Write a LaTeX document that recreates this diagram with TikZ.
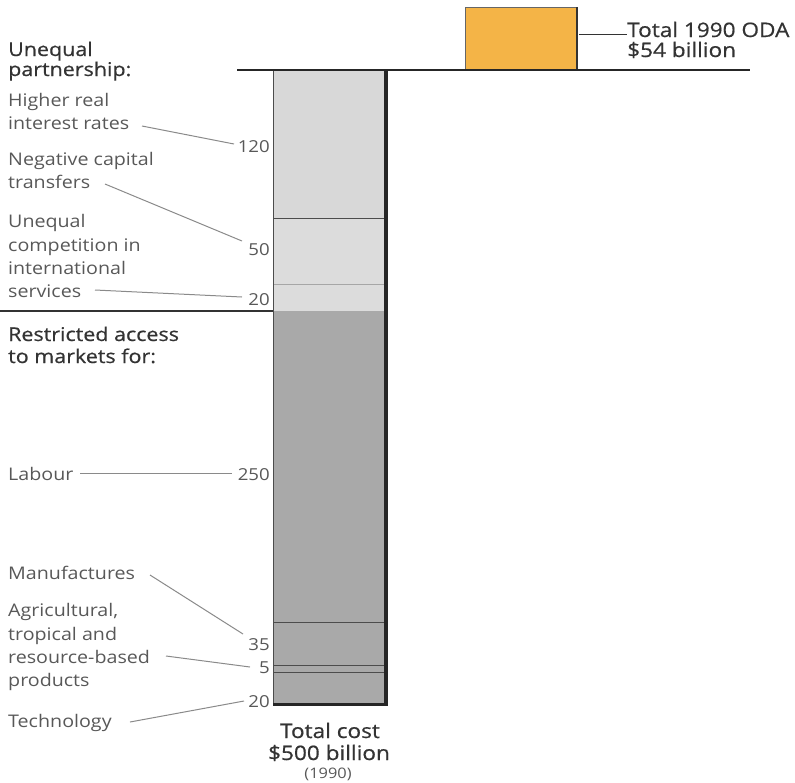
\documentclass[tikz,border=0pt]{standalone}
\usepackage{fontspec}
\setmainfont{Open Sans}[FakeStretch=1.13]
\newfontfamily\headfont{Open Sans}[FakeStretch=1.13,FakeBold=0.6]
\definecolor{oda}{HTML}{F4B447}
\definecolor{lgray}{HTML}{D8D8D8}
\definecolor{mgray}{HTML}{DCDCDC}
\definecolor{dgray}{HTML}{A9A9A9}
\definecolor{txtdark}{HTML}{333333}
\definecolor{txtmid}{HTML}{585858}
\definecolor{leader}{HTML}{8A8A8A}
\tikzset{
  head/.style={anchor=base west,inner sep=0pt,font=\headfont\fontsize{19}{22}\selectfont,text=txtdark},
  sub/.style={anchor=base west,inner sep=0pt,font=\fontsize{17.4}{20}\selectfont,text=txtmid},
  num/.style={anchor=base east,inner sep=0pt,font=\fontsize{16.5}{20}\selectfont,text=txtmid},
  tot/.style={anchor=base,inner sep=0pt,font=\headfont\fontsize{20}{24}\selectfont,text=txtdark},
  odatext/.style={anchor=base west,inner sep=0pt,font=\headfont\fontsize{20}{24}\selectfont,text=txtdark},
  lead/.style={draw=leader,line width=1pt},
  seg/.style={draw=black!70,line width=0.8pt},
}
\begin{document}
\begin{tikzpicture}[x=1pt,y=-1pt]
\useasboundingbox (0,0) rectangle (795,782);
% ODA box
\fill[oda] (465,7) rectangle (578,70);
\draw[black!60,line width=0.6pt] (465,70) -- (465,7) -- (578,7);
\draw[black!80,line width=2.5pt] (577,7) -- (577,70);
\coordinate (odaR) at (579,34);
\node[odatext] (odat1) at (627,37) {Total 1990 ODA};
\node[odatext] (odat2) at (627,57) {\$54 billion};
\draw[black!80,line width=1pt] (odaR) -- (odat1.west|-odaR);
% column segments
\fill[lgray] (273,70) rectangle (386,218);
\fill[mgray] (273,218) rectangle (386,284);
\fill[mgray] (273,284) rectangle (386,311);
\fill[dgray] (273,311) rectangle (386,705);
\draw[seg] (273,218) -- (386,218);
\draw[seg,black!35] (273,284) -- (386,284);
\draw[seg] (273,622) -- (386,622);
\draw[seg] (273,665) -- (386,665);
\draw[seg] (273,672) -- (386,672);
\draw[black!70,line width=0.8pt] (273,70) -- (273,705);
\draw[black!85,line width=3.5pt] (386,70) -- (386,706);
\draw[black!85,line width=3pt] (273,704) -- (387.7,704);
% baseline and divider
\draw[black!85,line width=2.2pt] (237,70) -- (750,70);
\draw[black!80,line width=1.2pt] (0,311) -- (273,311);
% headings
\node[head] (h1a) at (8,56) {Unequal};
\node[head] (h1b) at (8,76) {partnership:};
\node[head] (h2a) at (8,341) {Restricted access};
\node[head] (h2b) at (8,363) {to markets for:};
% labels
\node[sub] (a1) at (8,106) {Higher real};
\node[sub] (a2) at (8,129) {interest rates};
\node[sub] (b1) at (8,165) {Negative capital};
\node[sub] (b2) at (8,188) {transfers};
\node[sub] (c1) at (8,227) {Unequal};
\node[sub] (c2) at (8,251) {competition in};
\node[sub] (c3) at (8,274) {international};
\node[sub] (c4) at (8,297) {services};
\node[sub] (d1) at (8,480) {Labour};
\node[sub] (e1) at (8,579) {Manufactures};
\node[sub] (f1) at (8,616) {Agricultural,};
\node[sub] (f2) at (8,640) {tropical and};
\node[sub] (f3) at (8,663) {resource-based};
\node[sub] (f4) at (8,686) {products};
\node[sub] (g1) at (8,727) {Technology};
% numbers
\node[num] (n120) at (270,152) {120};
\node[num] (n50) at (270,255) {50};
\node[num] (n20a) at (270,305) {20};
\node[num] (n250) at (270,480) {250};
\node[num] (n35) at (270,650) {35};
\node[num] (n5) at (270,673) {5};
\node[num] (n20b) at (270,707) {20};
% leader endpoints
\coordinate (p1s) at (142,126); \coordinate (p1e) at (234,144);
\coordinate (p2s) at (105,184); \coordinate (p2e) at (242,241);
\coordinate (p3s) at (95,290);  \coordinate (p3e) at (242,297);
\coordinate (p4s) at (80,473);  \coordinate (p4e) at (232,473);
\coordinate (p5s) at (150,575); \coordinate (p5e) at (243,634);
\coordinate (p6s) at (166,656); \coordinate (p6e) at (250,667);
\coordinate (p7s) at (130,722); \coordinate (p7e) at (244,701);
\draw[lead] (p1s) -- (p1e);
\draw[lead] (p2s) -- (p2e);
\draw[lead] (p3s) -- (p3e);
\draw[lead] (p4s) -- (p4e);
\draw[lead] (p5s) -- (p5e);
\draw[lead] (p6s) -- (p6e);
\draw[lead] (p7s) -- (p7e);
% totals
\node[tot] (t1) at (330,738) {Total cost};
\node[tot] (t2) at (329,760) {\$500 billion};
\node[anchor=base,inner sep=0pt,font=\fontsize{14.5}{17}\selectfont,text=txtmid] (t3) at (328,778) {(1990)};
\end{tikzpicture}
\end{document}
